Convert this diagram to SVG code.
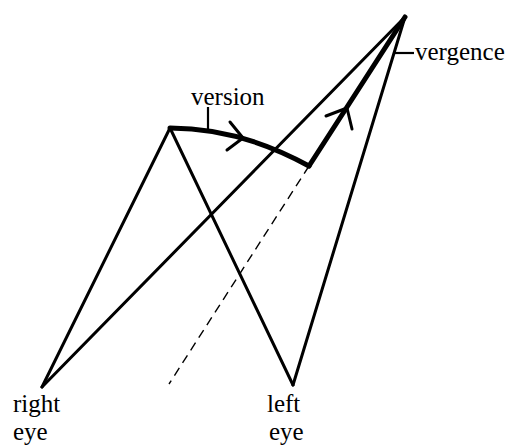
<svg xmlns="http://www.w3.org/2000/svg" width="513" height="445" viewBox="0 0 513 445">
<style>
.ln{stroke:#000;stroke-width:3;fill:none;stroke-linecap:round;stroke-linejoin:round}
.th{stroke:#000;stroke-width:5;fill:none;stroke-linecap:round;stroke-linejoin:round}
.tk{stroke:#000;stroke-width:2.2;fill:none}
.ds{stroke:#000;stroke-width:1.4;fill:none;stroke-dasharray:9,6}
</style>
<rect width="513" height="445" fill="#fff"/>
<g id="connectors">
<line class="ln" x1="42" y1="387" x2="405" y2="17"/>
<line class="ln" x1="42" y1="387" x2="170" y2="128"/>
<line class="ln" x1="170" y1="128" x2="293" y2="385"/>
<line class="ln" x1="293" y1="385" x2="405" y2="17"/>
<line class="ds" x1="309" y1="166" x2="169" y2="384"/>
<path class="th" d="M170,128 Q240,128 309,166"/>
<path class="ln" d="M230,122 L243,138 L227,150"/>
<path class="th" d="M309,166 L405,17"/>
<path class="ln" d="M326,116 L347,108 L352,129"/>
<line class="tk" x1="208" y1="107" x2="208" y2="130"/>
<line class="tk" x1="395" y1="53" x2="414" y2="53"/>
</g>
<g font-family="Liberation Serif, serif" font-size="25" fill="#000">
<g id="label-version"><text x="191" y="105">version</text></g>
<g id="label-vergence"><text x="415" y="60">vergence</text></g>
<g id="label-right-eye"><text x="13" y="412">right</text><text x="13" y="440">eye</text></g>
<g id="label-left-eye"><text x="267" y="412">left</text><text x="269" y="440">eye</text></g>
</g>
</svg>
